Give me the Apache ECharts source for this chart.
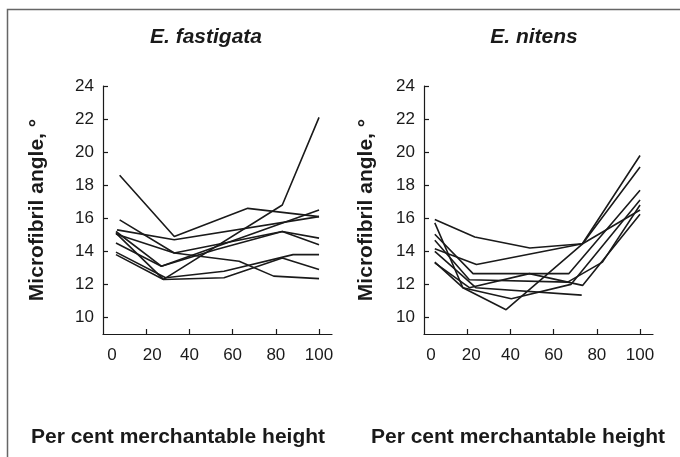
<!DOCTYPE html>
<html><head><meta charset="utf-8">
<script src="https://cdn.jsdelivr.net/npm/echarts@6/dist/echarts.min.js"></script>
<style>html,body{margin:0;padding:0;background:#fff}#c{width:680px;height:457px}</style>
</head><body><div id="c"></div>
<script>
const panelTitles = ['E. fastigata', 'E. nitens'];
const yAxisName = 'Microfibril angle, \u00b0';
const xAxisName = 'Per cent merchantable height';
const xTickLabels = [0, 20, 40, 60, 80, 100];
const xTickMarks = [20, 40, 60, 80, 100];
const yTickLabels = [10, 12, 14, 16, 18, 20, 22, 24];

// E. fastigata trees: [per cent height, microfibril angle]
const fastA = [[7.7, 18.6], [33, 14.9], [67, 16.6], [100, 16.1]];
const fastB = [[6.5, 15.3], [33, 14.7], [100, 16.1]];
const fastC = [[6, 15.1], [28, 12.3], [83, 16.8], [100, 22.1]];
const fastD = [[7.7, 15.9], [33, 13.9], [83, 15.2], [100, 14.8]];
const fastE = [[6, 14.5], [27, 13.1], [52, 14.1], [83, 15.2], [100, 14.4]];
const fastF = [[6, 15.2], [27, 13.1], [100, 16.5]];
const fastG = [[6, 13.95], [29, 12.4], [56, 12.8], [88, 13.8], [100, 13.8]];
const fastH = [[6, 13.8], [28, 12.3], [56, 12.4], [83, 13.6], [100, 12.9]];
const fastI = [[6, 15.05], [33, 13.9], [63, 13.4], [79, 12.5], [100, 12.35]];

// E. nitens trees
const nitA = [[5, 15.92], [23.5, 14.87], [49, 14.2], [73.4, 14.46], [100, 19.1]];
const nitB = [[5, 14.16], [24.3, 13.2], [73.4, 14.46], [100, 16.5]];
const nitC = [[5, 15.72], [18, 11.8], [38, 10.47], [73, 14.4], [100, 19.8]];
const nitD = [[5, 15.03], [22.7, 12.65], [48.8, 12.65], [67, 12.65], [100, 17.7]];
const nitE = [[5, 14.67], [21, 12.28], [66.5, 12.14], [82.6, 13.35], [100, 16.8]];
const nitF = [[5, 13.35], [18, 11.8], [40.4, 11.13], [68, 12.0], [100, 17.1]];
const nitG = [[5, 13.3], [21, 11.8], [48.8, 12.65], [73.4, 11.94], [100, 16.24]];
const nitH = [[5, 14.0], [24, 11.8], [73, 11.35]];

const fastSeries = [fastA, fastB, fastC, fastD, fastE, fastF, fastG, fastH, fastI];
const nitSeries = [nitA, nitB, nitC, nitD, nitE, nitF, nitG, nitH];

const FONT = 'Liberation Sans, Arial, Helvetica, sans-serif';
const INK = '#1a1a1a';

function makeX(i, pad0, pad20) {
  const base = { fontSize: 17, color: INK, fontFamily: FONT };
  return {
    type: 'value', gridIndex: i, min: 0, max: 106,
    axisLine: { show: true, lineStyle: { color: INK, width: 1.2 } },
    axisTick: { show: true, inside: true, length: 5, customValues: xTickMarks, lineStyle: { color: INK, width: 1.2 } },
    axisLabel: {
      customValues: xTickLabels, fontSize: 17, color: INK, margin: 13, fontFamily: FONT,
      formatter: v => v === 0 ? '{a|0}' : (v === 20 ? '{b|20}' : String(v)),
      rich: {
        a: Object.assign({ padding: [0, 0, 0, pad0] }, base),
        b: Object.assign({ padding: [0, 0, 0, pad20] }, base)
      }
    },
    splitLine: { show: false }
  };
}
function makeY(i, gap) {
  return {
    type: 'value', gridIndex: i, min: 9, max: 24,
    axisLine: { show: true, lineStyle: { color: INK, width: 1.2 } },
    axisTick: { show: true, inside: true, length: 5, customValues: yTickLabels, lineStyle: { color: INK, width: 1.2 } },
    axisLabel: { customValues: yTickLabels, fontSize: 17, color: INK, margin: 9, fontFamily: FONT },
    splitLine: { show: false },
    name: yAxisName, nameLocation: 'middle', nameGap: gap,
    nameTextStyle: { fontWeight: 'bold', fontSize: 21, color: INK, fontFamily: FONT }
  };
}
function lineSeries(data, i) {
  return {
    type: 'line', xAxisIndex: i, yAxisIndex: i, data: data,
    showSymbol: false, silent: true,
    lineStyle: { color: INK, width: 1.6 }
  };
}

const chart = echarts.init(document.getElementById('c'), null, { renderer: 'canvas' });
chart.setOption({
  animation: false,
  backgroundColor: '#fff',
  grid: [
    { left: 103, top: 86, width: 229, height: 248 },
    { left: 424, top: 86, width: 229, height: 248 }
  ],
  xAxis: [makeX(0, 18, 12), makeX(1, 14, 8)],
  yAxis: [makeY(0, 55), makeY(1, 47)],
  series: fastSeries.map(d => lineSeries(d, 0)).concat(nitSeries.map(d => lineSeries(d, 1))),
  graphic: [
    { type: 'rect', shape: { x: 7.5, y: 9.5, width: 700, height: 470 }, style: { fill: 'none', stroke: '#666', lineWidth: 1.5 }, silent: true },
    { type: 'text', x: 206, y: 37, style: { text: panelTitles[0], font: 'italic bold 21px ' + FONT, fill: INK, textAlign: 'center', textVerticalAlign: 'middle' } },
    { type: 'text', x: 534, y: 37, style: { text: panelTitles[1], font: 'italic bold 21px ' + FONT, fill: INK, textAlign: 'center', textVerticalAlign: 'middle' } },
    { type: 'text', x: 178, y: 437, style: { text: xAxisName, font: 'bold 21px ' + FONT, fill: INK, textAlign: 'center', textVerticalAlign: 'middle' } },
    { type: 'text', x: 518, y: 437, style: { text: xAxisName, font: 'bold 21px ' + FONT, fill: INK, textAlign: 'center', textVerticalAlign: 'middle' } }
  ]
});
</script>
</body></html>
